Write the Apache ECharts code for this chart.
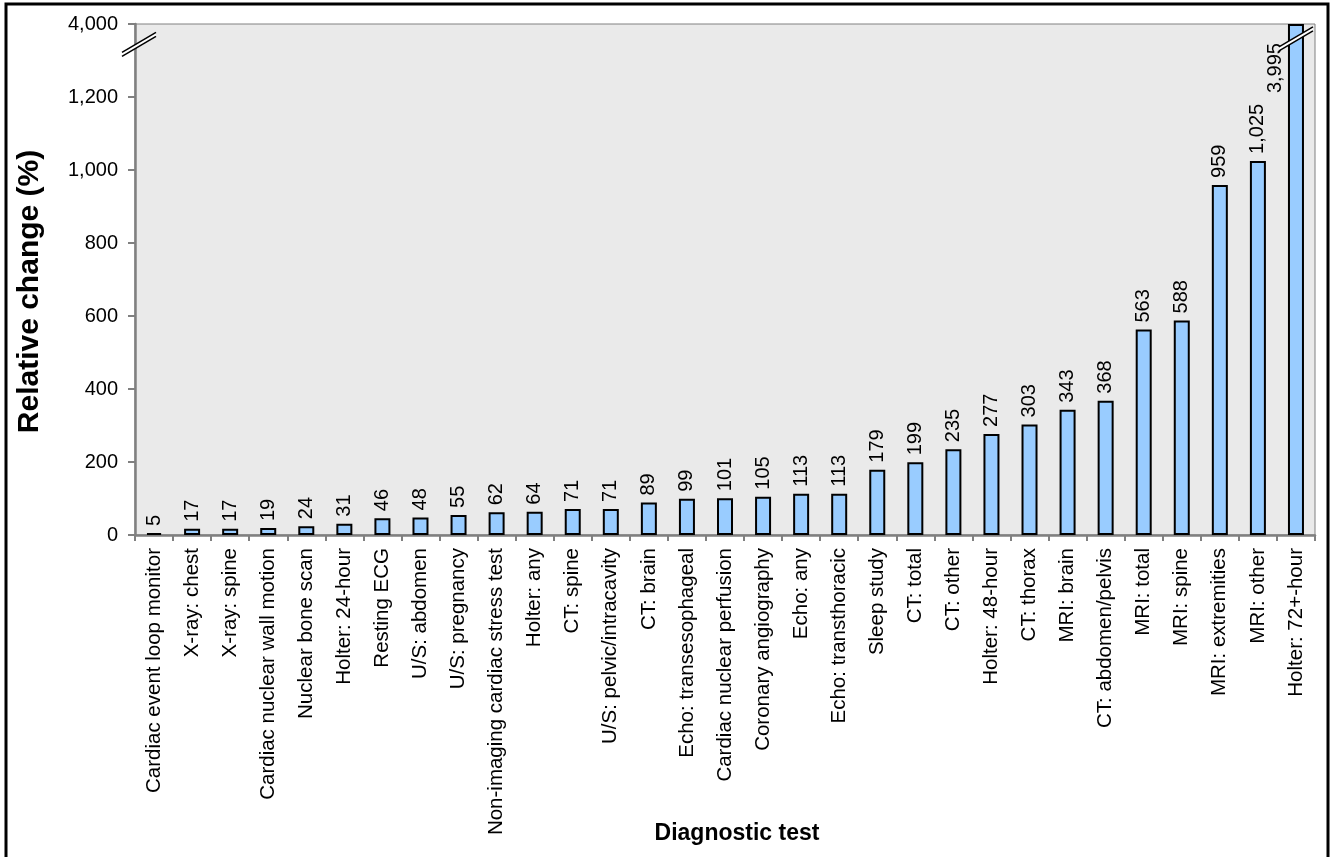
<!DOCTYPE html>
<html>
<head>
<meta charset="utf-8">
<script src="https://cdn.jsdelivr.net/npm/echarts@6/dist/echarts.min.js"></script>
<style>
  html, body { margin: 0; padding: 0; background: #ffffff; }
  #chart { width: 1330px; height: 857px; }
</style>
</head>
<body>
<div id="chart"></div>
<script>
// Diagnostic tests, ordered by relative change
const categories = [
  'Cardiac event loop monitor', 'X-ray: chest', 'X-ray: spine', 'Cardiac nuclear wall motion',
  'Nuclear bone scan', 'Holter: 24-hour', 'Resting ECG', 'U/S: abdomen', 'U/S: pregnancy',
  'Non-imaging cardiac stress test', 'Holter: any', 'CT: spine', 'U/S: pelvic/intracavity',
  'CT: brain', 'Echo: transesophageal', 'Cardiac nuclear perfusion', 'Coronary angiography',
  'Echo: any', 'Echo: transthoracic', 'Sleep study', 'CT: total', 'CT: other',
  'Holter: 48-hour', 'CT: thorax', 'MRI: brain', 'CT: abdomen/pelvis', 'MRI: total',
  'MRI: spine', 'MRI: extremities', 'MRI: other', 'Holter: 72+-hour'
];

// Relative change (%)
const relativeChange = [
  5, 17, 17, 19, 24, 31, 46, 48, 55, 62, 64, 71, 71, 89, 99, 101, 105, 113, 113,
  179, 199, 235, 277, 303, 343, 368, 563, 588, 959, 1025, 3995
];

// Y-axis tick values (real units); the top one sits above the axis break
const yTicks = [0, 200, 400, 600, 800, 1000, 1200, 4000];

// Broken axis: linear up to breakStart, then the span breakStart..breakTop is squeezed
const breakStart = 1300;
const breakTop = 4000;
const axisTop = 1400;
function toAxis(v) {
  if (v <= breakStart) return v;
  return breakStart + (v - breakStart) * (axisTop - breakStart) / (breakTop - breakStart);
}
function fromAxis(a) {
  if (a <= breakStart) return a;
  return breakStart + (a - breakStart) * (breakTop - breakStart) / (axisTop - breakStart);
}

const FONT = '"Liberation Sans", Arial, sans-serif';
const fmt = n => Math.round(n).toLocaleString('en-US');

const barData = relativeChange.map((v, i) => {
  const item = { value: toAxis(v), real: v };
  if (v > breakStart) {
    // label of the clipped bar sits beside it, just under the top edge
    item.label = { position: [-12, 19], align: 'right', verticalAlign: 'middle' };
  }
  return item;
});

const chart = echarts.init(document.getElementById('chart'), null, { renderer: 'canvas' });

const option = {
  animation: false,
  backgroundColor: '#ffffff',
  grid: {
    left: 135, right: 15, top: 24, bottom: 322,
    containLabel: false,
    outerBoundsMode: 'none',
    show: true, backgroundColor: '#EAEAEA', borderColor: '#808080', borderWidth: 1
  },
  xAxis: {
    type: 'category',
    data: categories,
    boundaryGap: true,
    name: 'Diagnostic test',
    nameLocation: 'middle',
    nameGap: 287,
    nameMoveOverlap: false,
    nameTextStyle: { fontFamily: FONT, fontSize: 23, fontWeight: 'bold', color: '#000', padding: [0, 0, 0, 24] },
    axisLine: { show: true, lineStyle: { color: '#808080', width: 2.5 } },
    axisTick: { show: true, alignWithLabel: false, length: 6, lineStyle: { color: '#808080', width: 2 } },
    axisLabel: {
      interval: 0, rotate: 90, margin: 13,
      fontFamily: FONT, fontSize: 20.5, color: '#000'
    },
    splitLine: { show: false }
  },
  yAxis: {
    type: 'value',
    min: 0, max: axisTop, interval: 200,
    name: 'Relative change (%)',
    nameLocation: 'middle',
    nameRotate: 90,
    nameGap: 90,
    nameMoveOverlap: false,
    nameTextStyle: { fontFamily: FONT, fontSize: 30, fontWeight: 'bold', color: '#000', padding: [0, 24, 0, 0] },
    axisLine: { show: true, lineStyle: { color: '#808080', width: 2.5 } },
    axisTick: { show: true, length: 7, lineStyle: { color: '#808080', width: 2 } },
    axisLabel: {
      margin: 17, fontFamily: FONT, fontSize: 20, color: '#000',
      formatter: a => {
        const real = fromAxis(a);
        const t = yTicks.reduce((best, x) => Math.abs(x - real) < Math.abs(best - real) ? x : best, yTicks[0]);
        return fmt(t);
      }
    },
    splitLine: { show: false }
  },
  series: [{
    type: 'bar',
    data: barData,
    barWidth: 16,
    itemStyle: { color: '#99CCFF', borderColor: '#000000', borderWidth: 2 },
    label: {
      show: true,
      position: 'top',
      rotate: 90,
      align: 'left',
      verticalAlign: 'middle',
      distance: 7,
      fontFamily: FONT, fontSize: 20, color: '#000',
      formatter: p => fmt(p.data.real)
    }
  }]
};

chart.setOption(option);

// Break marks: a white slanted band edged by two black lines
function breakMark(cx, cy) {
  const hx = 17, hy = 10, gap = 4;
  const a1 = [cx - hx, cy + hy - gap / 2], b1 = [cx + hx, cy - hy - gap / 2];
  const a2 = [cx - hx, cy + hy + gap / 2], b2 = [cx + hx, cy - hy + gap / 2];
  return [
    { type: 'polygon', z: 100, shape: { points: [a1, b1, b2, a2] }, style: { fill: '#ffffff' } },
    { type: 'line', z: 101, shape: { x1: a1[0], y1: a1[1], x2: b1[0], y2: b1[1] }, style: { stroke: '#000', lineWidth: 1.5 } },
    { type: 'line', z: 101, shape: { x1: a2[0], y1: a2[1], x2: b2[0], y2: b2[1] }, style: { stroke: '#000', lineWidth: 1.5 } }
  ];
}

const lastIdx = categories.length - 1;
const axisPt = chart.convertToPixel({ gridIndex: 0 }, [0, toAxis(2500)]);
const barPt = chart.convertToPixel({ gridIndex: 0 }, [lastIdx, toAxis(2900)]);
const gridRect = chart.getModel().getComponent('grid').coordinateSystem.getRect();

const graphics = []
  .concat(breakMark(gridRect.x + 4, axisPt[1]))
  .concat(breakMark(barPt[0], barPt[1]));

// outer frame of the figure
graphics.push({
  type: 'polyline', z: 200,
  shape: { points: [[6, 900], [6, 4], [1328, 4], [1328, 900]] },
  style: { stroke: '#000', lineWidth: 3, fill: null }
});

chart.setOption({ graphic: graphics });
</script>
</body>
</html>
